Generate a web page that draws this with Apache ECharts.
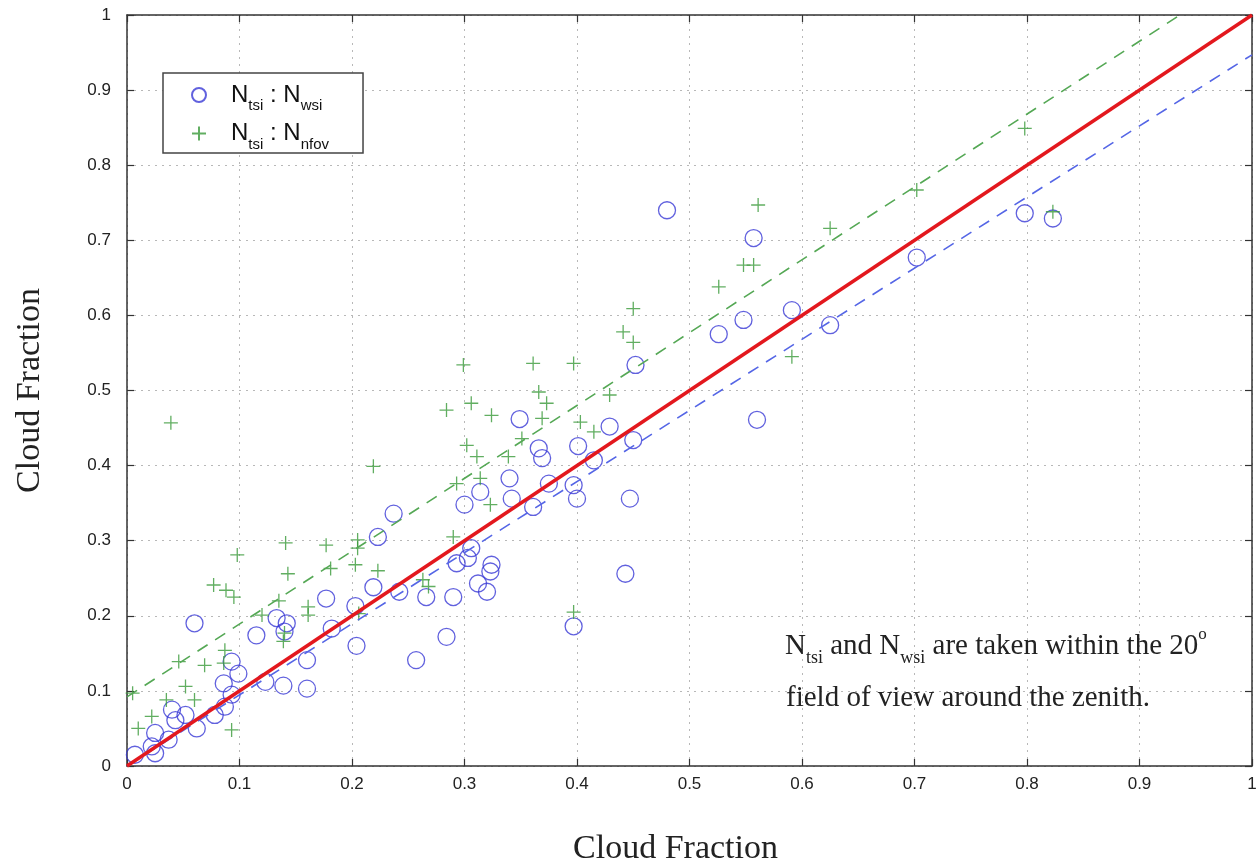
<!DOCTYPE html>
<html>
<head>
<meta charset="utf-8">
<script src="https://cdn.jsdelivr.net/npm/echarts@6/dist/echarts.min.js"></script>
<style>
  html, body { margin: 0; background: #fff; }
  #chart { width: 1259px; height: 862px; }
</style>
</head>
<body>
<div id="chart"></div>
<script>
// N_tsi : N_wsi  (blue circles)
const wsiX = [0.007, 0.022, 0.025, 0.025, 0.037, 0.040, 0.043, 0.052, 0.062, 0.078,
  0.087, 0.093, 0.086, 0.099, 0.093, 0.060, 0.115, 0.123, 0.133, 0.142,
  0.140, 0.139, 0.160, 0.160, 0.177, 0.182, 0.203, 0.204, 0.219, 0.223,
  0.237, 0.242, 0.257, 0.266, 0.284, 0.290, 0.293, 0.303, 0.306, 0.300,
  0.312, 0.314, 0.320, 0.323, 0.324, 0.340, 0.342, 0.349, 0.361, 0.366,
  0.369, 0.375, 0.397, 0.397, 0.400, 0.401, 0.415, 0.429, 0.443, 0.447,
  0.450, 0.452, 0.480, 0.526, 0.548, 0.557, 0.560, 0.591, 0.625, 0.702,
  0.798, 0.823];
const wsiY = [0.015, 0.026, 0.017, 0.044, 0.035, 0.075, 0.061, 0.068, 0.050, 0.068,
  0.079, 0.095, 0.110, 0.123, 0.139, 0.190, 0.174, 0.112, 0.197, 0.190,
  0.179, 0.107, 0.103, 0.141, 0.223, 0.183, 0.213, 0.160, 0.238, 0.305,
  0.336, 0.232, 0.141, 0.225, 0.172, 0.225, 0.270, 0.277, 0.290, 0.348,
  0.243, 0.365, 0.232, 0.259, 0.268, 0.383, 0.356, 0.462, 0.345, 0.423,
  0.410, 0.376, 0.374, 0.186, 0.356, 0.426, 0.407, 0.452, 0.256, 0.356,
  0.434, 0.534, 0.740, 0.575, 0.594, 0.703, 0.461, 0.607, 0.587, 0.677,
  0.736, 0.729];

// N_tsi : N_nfov  (green crosses)
const nfovX = [0.005, 0.010, 0.022, 0.035, 0.039, 0.046, 0.052, 0.060, 0.069, 0.077,
  0.086, 0.087, 0.088, 0.093, 0.095, 0.098, 0.120, 0.135, 0.139, 0.140,
  0.141, 0.143, 0.161, 0.161, 0.177, 0.181, 0.203, 0.205, 0.205, 0.206,
  0.219, 0.223, 0.263, 0.268, 0.284, 0.290, 0.293, 0.299, 0.302, 0.306,
  0.311, 0.314, 0.323, 0.324, 0.339, 0.351, 0.361, 0.366, 0.369, 0.373,
  0.397, 0.397, 0.403, 0.415, 0.429, 0.441, 0.450, 0.450, 0.526, 0.548,
  0.557, 0.561, 0.591, 0.625, 0.702, 0.798, 0.823];
const nfovY = [0.097, 0.050, 0.066, 0.088, 0.457, 0.139, 0.106, 0.088, 0.134, 0.241,
  0.137, 0.154, 0.234, 0.048, 0.225, 0.281, 0.201, 0.220, 0.166, 0.177,
  0.297, 0.256, 0.212, 0.201, 0.294, 0.263, 0.268, 0.301, 0.290, 0.203,
  0.399, 0.260, 0.248, 0.239, 0.474, 0.305, 0.376, 0.534, 0.427, 0.483,
  0.412, 0.383, 0.348, 0.467, 0.412, 0.436, 0.536, 0.498, 0.463, 0.483,
  0.536, 0.205, 0.458, 0.445, 0.494, 0.578, 0.609, 0.564, 0.638, 0.667,
  0.667, 0.747, 0.545, 0.716, 0.767, 0.849, 0.738];

// reference / fit lines (end points)
const oneToOne = [[0, 0], [1, 1]];
const wsiFit = [[0, 0.0], [1, 0.947]];
const nfovFit = [[0, 0.092], [0.936, 1]];

const zip = (xs, ys) => xs.map((x, i) => [x, ys[i]]);

const chart = echarts.init(document.getElementById('chart'));

const frame = { show: true, onZero: false, lineStyle: { color: '#333', width: 1.5 } };
const tick = { show: true, inside: true, length: 7, lineStyle: { color: '#333', width: 1.2 } };
const tickLabel = { fontFamily: 'Liberation Sans', fontSize: 17, color: '#222' };
const dotted = { show: true, lineStyle: { type: [2, 5], color: '#b8b8b8', width: 1 } };
const titleFont = { fontFamily: 'Liberation Serif', fontSize: 34, color: '#222' };

const serif = { fontFamily: 'Liberation Serif', fontSize: 29, fontWeight: 'normal', color: '#222' };
const noteRich = {
  n: serif,
  s: { fontFamily: 'Liberation Serif', fontSize: 18, fontWeight: 'normal', color: '#222', padding: [24, 0, 0, 0] },
  sup: { fontFamily: 'Liberation Serif', fontSize: 17, fontWeight: 'normal', color: '#222', padding: [0, 0, 22, 0] }
};

const option = {
  animation: false,
  backgroundColor: '#fff',
  title: [
    {
      text: '{n|N}{s|tsi}{n| and N}{s|wsi}{n| are taken within the 20}{sup|o}',
      left: 780, top: 620,
      textStyle: Object.assign({ rich: noteRich }, serif)
    },
    {
      text: 'field of view around the zenith.',
      left: 781, top: 679,
      textStyle: serif
    }
  ],
  legend: {
    data: ['wsi', 'nfov'],
    orient: 'vertical',
    left: 163, top: 73,
    padding: [10, 34, 1, 28],
    itemGap: 8,
    itemWidth: 14, itemHeight: 14,
    borderColor: '#444', borderWidth: 1.5,
    backgroundColor: '#fff',
    formatter: name => name === 'wsi'
      ? '{n|N}{s|tsi}{n| : N}{s|wsi}'
      : '{n|N}{s|tsi}{n| : N}{s|nfov}',
    textStyle: {
      padding: [0, 0, 0, 20],
      rich: {
        n: { fontFamily: 'Liberation Sans', fontSize: 24, color: '#111' },
        s: { fontFamily: 'Liberation Sans', fontSize: 15, color: '#111', padding: [22, 0, 0, 0] }
      }
    }
  },
  grid: { left: 127, right: 7, top: 15, bottom: 96, show: false, outerBoundsMode: 'none' },
  xAxis: [
    {
      type: 'value', min: 0, max: 1, interval: 0.1, position: 'bottom',
      axisLine: frame, axisTick: tick, splitLine: dotted,
      axisLabel: Object.assign({ margin: 10 }, tickLabel),
      name: 'Cloud Fraction', nameLocation: 'middle', nameGap: 66,
      nameTextStyle: Object.assign({ padding: [0, 28, 0, 0] }, titleFont)
    },
    {
      type: 'value', min: 0, max: 1, interval: 0.1, position: 'top',
      axisLine: frame, axisTick: tick, splitLine: { show: false }, axisLabel: { show: false }
    }
  ],
  yAxis: [
    {
      type: 'value', min: 0, max: 1, interval: 0.1, position: 'left',
      axisLine: frame, axisTick: tick, splitLine: dotted,
      axisLabel: Object.assign({ margin: 16 }, tickLabel),
      name: 'Cloud Fraction', nameLocation: 'middle', nameGap: 80, nameRotate: 90, nameTextStyle: titleFont
    },
    {
      type: 'value', min: 0, max: 1, interval: 0.1, position: 'right',
      axisLine: frame, axisTick: tick, splitLine: { show: false }, axisLabel: { show: false }
    }
  ],
  series: [
    {
      name: 'wsi', type: 'scatter', data: zip(wsiX, wsiY),
      symbol: 'circle', symbolSize: 17,
      itemStyle: { color: 'transparent', borderColor: '#3a3ad6', borderWidth: 1.3 }
    },
    {
      name: 'nfov', type: 'scatter', data: zip(nfovX, nfovY),
      symbol: 'path://M5,0L5,10M0,5L10,5', symbolSize: 14,
      itemStyle: { color: 'transparent', borderColor: '#3a9a3a', borderWidth: 1.3 }
    },
    {
      name: 'wsiFit', type: 'line', data: wsiFit, showSymbol: false, silent: true,
      lineStyle: { color: '#5566e6', width: 1.6, type: [12, 9] }
    },
    {
      name: 'nfovFit', type: 'line', data: nfovFit, showSymbol: false, silent: true,
      lineStyle: { color: '#55a855', width: 1.6, type: [12, 9] }
    },
    {
      name: 'oneToOne', type: 'line', data: oneToOne, showSymbol: false, silent: true,
      lineStyle: { color: '#e3181e', width: 3.5 }
    }
  ]
};

chart.setOption(option);
</script>
</body>
</html>
